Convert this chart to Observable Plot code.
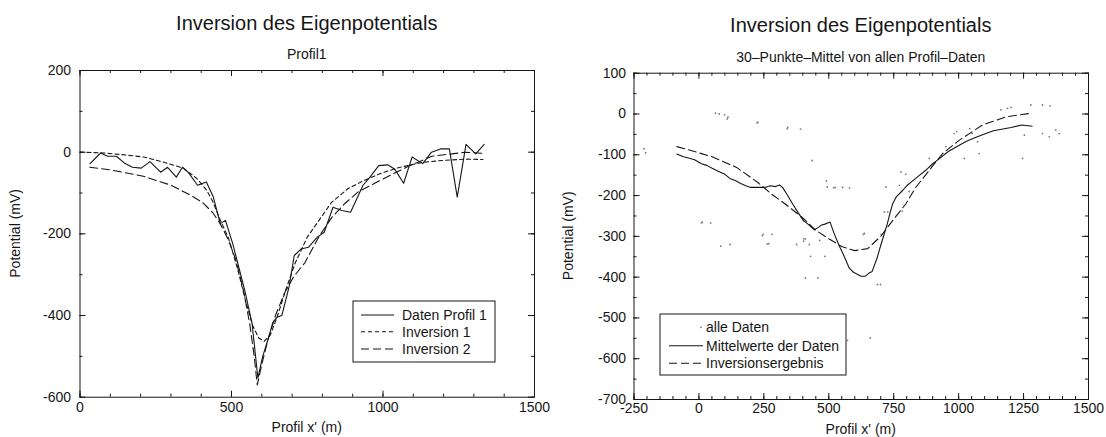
<!DOCTYPE html>
<html><head><meta charset="utf-8">
<script src="https://cdn.jsdelivr.net/npm/d3@7"></script>
<script src="https://cdn.jsdelivr.net/npm/@observablehq/plot@0.6"></script>
<style>
body{margin:0;background:#fff;}
#wrap{position:relative;width:1106px;height:437px;overflow:hidden;background:#fff;font-family:"Liberation Sans",Arial,Helvetica,sans-serif;}
</style></head><body><div id="wrap"></div>
<script>
// ---------- Left panel: Profil1 ----------
const profilX = [33,68,91,120,149,173,202,231,266,289,318,338,358,388,417,440,463,480,504,527,544,568,587,603,620,636,650,666,690,707,730,754,783,806,835,864,893,934,957,986,1015,1038,1068,1096,1131,1160,1190,1219,1245,1274,1306,1334];
const profilY = [-28,-2,-10,-10,-28,-37,-39,-23,-49,-37,-61,-37,-50,-81,-73,-110,-175,-167,-224,-290,-339,-420,-553,-500,-460,-418,-404,-400,-330,-253,-237,-233,-208,-196,-135,-143,-147,-81,-61,-33,-31,-41,-76,-12,-28,0,8,8,-110,19,-4,19];
const inv1X = [0,80,153,210,264,341,385,418,439,461,490,520,545,570,590,608,628,650,680,710,750,800,830,885,941,996,1051,1129,1200,1273,1330];
const inv1Y = [0,-2,-7,-12,-22,-39,-64,-93,-122,-163,-210,-285,-360,-425,-455,-463,-448,-405,-335,-272,-208,-155,-123,-89,-68,-51,-38,-25,-20,-17,-18];
const inv2X = [32,98,209,297,362,406,439,461,490,515,540,560,575,585,600,620,645,675,705,742,790,830,875,919,1007,1085,1162,1273,1330];
const inv2Y = [-37,-43,-59,-80,-104,-124,-149,-173,-215,-265,-340,-420,-500,-570,-520,-460,-400,-345,-305,-271,-205,-161,-125,-97,-63,-34,-10,0,-3];
const leftXTicks = [0,500,1000,1500];
const leftYTicks = [-600,-400,-200,0,200];

// ---------- Right panel: 30-Punkte-Mittel ----------
const meanX = [-85,-60,-40,-17,10,30,51,80,100,119,140,159,180,200,225,254,275,295,310,322,340,362,380,403,420,444,460,470,485,505,520,538,560,579,595,613,625,640,655,667,685,701,714,725,735,746,760,785,800,823,850,877,900,931,960,999,1030,1067,1100,1134,1170,1202,1243,1283];
const meanY = [-98,-105,-108,-112,-122,-126,-133,-142,-148,-158,-163,-170,-176,-180,-180,-180,-176,-178,-174,-180,-198,-222,-240,-262,-270,-284,-278,-273,-270,-265,-292,-320,-350,-378,-388,-394,-398,-398,-390,-386,-355,-320,-293,-270,-245,-220,-203,-187,-176,-164,-150,-136,-122,-107,-92,-78,-67,-57,-49,-41,-37,-33,-27,-30];
const invResX = [-85,-17,51,145,227,281,335,400,450,500,550,600,650,700,750,797,836,887,938,1003,1092,1182,1280];
const invResY = [-80,-92,-105,-131,-168,-197,-222,-255,-285,-306,-325,-335,-330,-300,-258,-220,-179,-138,-97,-64,-27,-7,2];
const allX = [-212,-205,13,45,64,78,99,109,112,224,227,244,247,263,269,282,342,340,376,391,403,404,410,425,430,436,458,465,485,491,494,519,525,553,580,633,637,660,687,699,702,714,720,727,772,778,783,796,809,887,951,983,993,1022,1043,1052,1073,1079,1163,1188,1202,1246,1253,1278,1323,1323,1349,1352,1374,1387,84,120,10,410,572];
const allY = [-85,-95,-265,-267,2,0,-2,-12,-8,-22,-20,-298,-295,-319,-318,-295,-33,-36,-320,-37,-312,-306,-306,-320,-349,-114,-402,-310,-349,-164,-179,-181,-180,-180,-181,-295,-293,-549,-418,-418,-295,-240,-179,-240,-175,-142,-238,-148,-190,-109,-80,-48,-43,-109,-36,-48,-68,-97,10,14,16,-109,-52,22,22,-48,-56,20,-39,-48,-324,-320,-267,-402,-555];
const rightXTicks = [-250,0,250,500,750,1000,1250,1500];
const rightYTicks = [-700,-600,-500,-400,-300,-200,-100,0,100];

const FONT = '"Liberation Sans", Arial, Helvetica, sans-serif';
const INK = "#161616";
const pts = (xs, ys) => xs.map((x, i) => ({x, y: ys[i]}));
const range = (a, b, s) => d3.range(a, b + s / 2, s);

function panel(o) {
  const W = 553 - o.ml - o.mr, H = 437 - o.mt - o.mb;
  const fmt = d => String(d);
  // inward frame ticks on all four sides
  const frameTicks = (xs, ys, len) => [
    Plot.tickX(xs, {x: d => d, insetTop: H - len, stroke: INK, strokeWidth: 1}),
    Plot.tickX(xs, {x: d => d, insetBottom: H - len, stroke: INK, strokeWidth: 1}),
    Plot.tickY(ys, {y: d => d, insetRight: W - len, stroke: INK, strokeWidth: 1}),
    Plot.tickY(ys, {y: d => d, insetLeft: W - len, stroke: INK, strokeWidth: 1})
  ];
  return Plot.plot({
    width: 553, height: 437,
    marginLeft: o.ml, marginRight: o.mr, marginTop: o.mt, marginBottom: o.mb,
    x: {domain: o.xd}, y: {domain: o.yd},
    style: {fontFamily: FONT, fontSize: "14px", color: INK, background: "transparent", overflow: "visible"},
    marks: [
      ...o.marks,
      Plot.frame({stroke: INK, strokeWidth: 1}),
      ...frameTicks(o.xMinor, o.yMinor, 3),
      ...frameTicks(o.xMajor, o.yMajor, 6),
      Plot.axisX({anchor: "bottom", ticks: o.xMajor, tickSize: 0, tickPadding: o.xPad, tickFormat: fmt, label: null, fontSize: 14, fill: INK}),
      Plot.axisY({anchor: "left", ticks: o.yMajor, tickSize: 0, tickPadding: o.yPad, tickFormat: fmt, label: null, fontSize: 14, fill: INK})
    ]
  });
}

const left = panel({
  ml: 79.5, mr: 19, mt: 70, mb: 40.3,
  xd: [0, 1500], yd: [-600, 200],
  xMajor: leftXTicks, xMinor: range(0, 1500, 100),
  yMajor: leftYTicks, yMinor: range(-600, 200, 100),
  xPad: 5, yPad: 9,
  marks: [
    Plot.line(pts(inv2X, inv2Y), {x: "x", y: "y", stroke: INK, strokeWidth: 1.1, strokeDasharray: "8,4"}),
    Plot.line(pts(inv1X, inv1Y), {x: "x", y: "y", stroke: INK, strokeWidth: 1.1, strokeDasharray: "4,3"}),
    Plot.line(pts(profilX, profilY), {x: "x", y: "y", stroke: INK, strokeWidth: 1.1})
  ]
});
const right = panel({
  ml: 80.5, mr: 18, mt: 72.7, mb: 38,
  xd: [-250, 1500], yd: [-700, 100],
  xMajor: rightXTicks, xMinor: range(-250, 1500, 50),
  yMajor: rightYTicks, yMinor: range(-700, 100, 50),
  xPad: 4, yPad: 8,
  marks: [
    Plot.dot(pts(allX, allY), {x: "x", y: "y", r: 0.9, fill: "#7a7a7a", stroke: null}),
    Plot.line(pts(invResX, invResY), {x: "x", y: "y", stroke: INK, strokeWidth: 1.1, strokeDasharray: "8,4"}),
    Plot.line(pts(meanX, meanY), {x: "x", y: "y", stroke: INK, strokeWidth: 1.1})
  ]
});

const wrap = document.getElementById("wrap");
for (const [el, lx] of [[left, 0], [right, 553]]) {
  el.style.position = "absolute"; el.style.left = lx + "px"; el.style.top = "0px";
  wrap.appendChild(el);
}

// titles, axis titles, legends
const ns = "http://www.w3.org/2000/svg";
const ov = document.createElementNS(ns, "svg");
ov.setAttribute("width", 1106); ov.setAttribute("height", 437);
ov.style.position = "absolute"; ov.style.left = "0"; ov.style.top = "0";
ov.setAttribute("font-family", FONT); ov.setAttribute("fill", INK);
function el(tag, attrs, text) {
  const e = document.createElementNS(ns, tag);
  for (const k in attrs) e.setAttribute(k, attrs[k]);
  if (text != null) e.textContent = text;
  ov.appendChild(e); return e;
}
const lc = 306.75, rc = 860.75;
el("text", {x: lc, y: 30, "text-anchor": "middle", "font-size": 20}, "Inversion des Eigenpotentials");
el("text", {x: lc, y: 59, "text-anchor": "middle", "font-size": 14}, "Profil1");
el("text", {x: rc, y: 32, "text-anchor": "middle", "font-size": 20}, "Inversion des Eigenpotentials");
el("text", {x: rc, y: 61.5, "text-anchor": "middle", "font-size": 14}, "30\u2013Punkte\u2013Mittel von allen Profil\u2013Daten");
el("text", {x: lc, y: 432, "text-anchor": "middle", "font-size": 14}, "Profil x' (m)");
el("text", {x: rc, y: 434, "text-anchor": "middle", "font-size": 14}, "Profil x' (m)");
el("text", {transform: "translate(20,233.4) rotate(-90)", "text-anchor": "middle", "font-size": 14}, "Potential (mV)");
el("text", {transform: "translate(573,235.8) rotate(-90)", "text-anchor": "middle", "font-size": 14}, "Potential (mV)");

// left legend
const leftLegend = [["Daten Profil 1", null], ["Inversion 1", "4,3"], ["Inversion 2", "8,4"]];
el("rect", {x: 353, y: 301, width: 142, height: 61, fill: "#fff", stroke: INK, "stroke-width": 1});
[315, 331.7, 349].forEach((cy, i) => {
  const l = el("line", {x1: 361, x2: 394, y1: cy, y2: cy, stroke: INK, "stroke-width": 1.1});
  if (leftLegend[i][1]) l.setAttribute("stroke-dasharray", leftLegend[i][1]);
  el("text", {x: 402, y: cy + 5, "font-size": 14}, leftLegend[i][0]);
});
// right legend
const rightLegend = [["alle Daten", "dot"], ["Mittelwerte der Daten", null], ["Inversionsergebnis", "8,4"]];
el("rect", {x: 660, y: 314, width: 186, height: 61, fill: "#fff", stroke: INK, "stroke-width": 1});
[327.3, 345.7, 363.3].forEach((cy, i) => {
  if (rightLegend[i][1] === "dot") {
    el("circle", {cx: 701, cy: cy, r: 0.9, fill: "#7a7a7a"});
  } else {
    const l = el("line", {x1: 669, x2: 703, y1: cy, y2: cy, stroke: INK, "stroke-width": 1.1});
    if (rightLegend[i][1]) l.setAttribute("stroke-dasharray", rightLegend[i][1]);
  }
  el("text", {x: 706, y: cy + 5, "font-size": 14}, rightLegend[i][0]);
});
wrap.appendChild(ov);
</script></body></html>
